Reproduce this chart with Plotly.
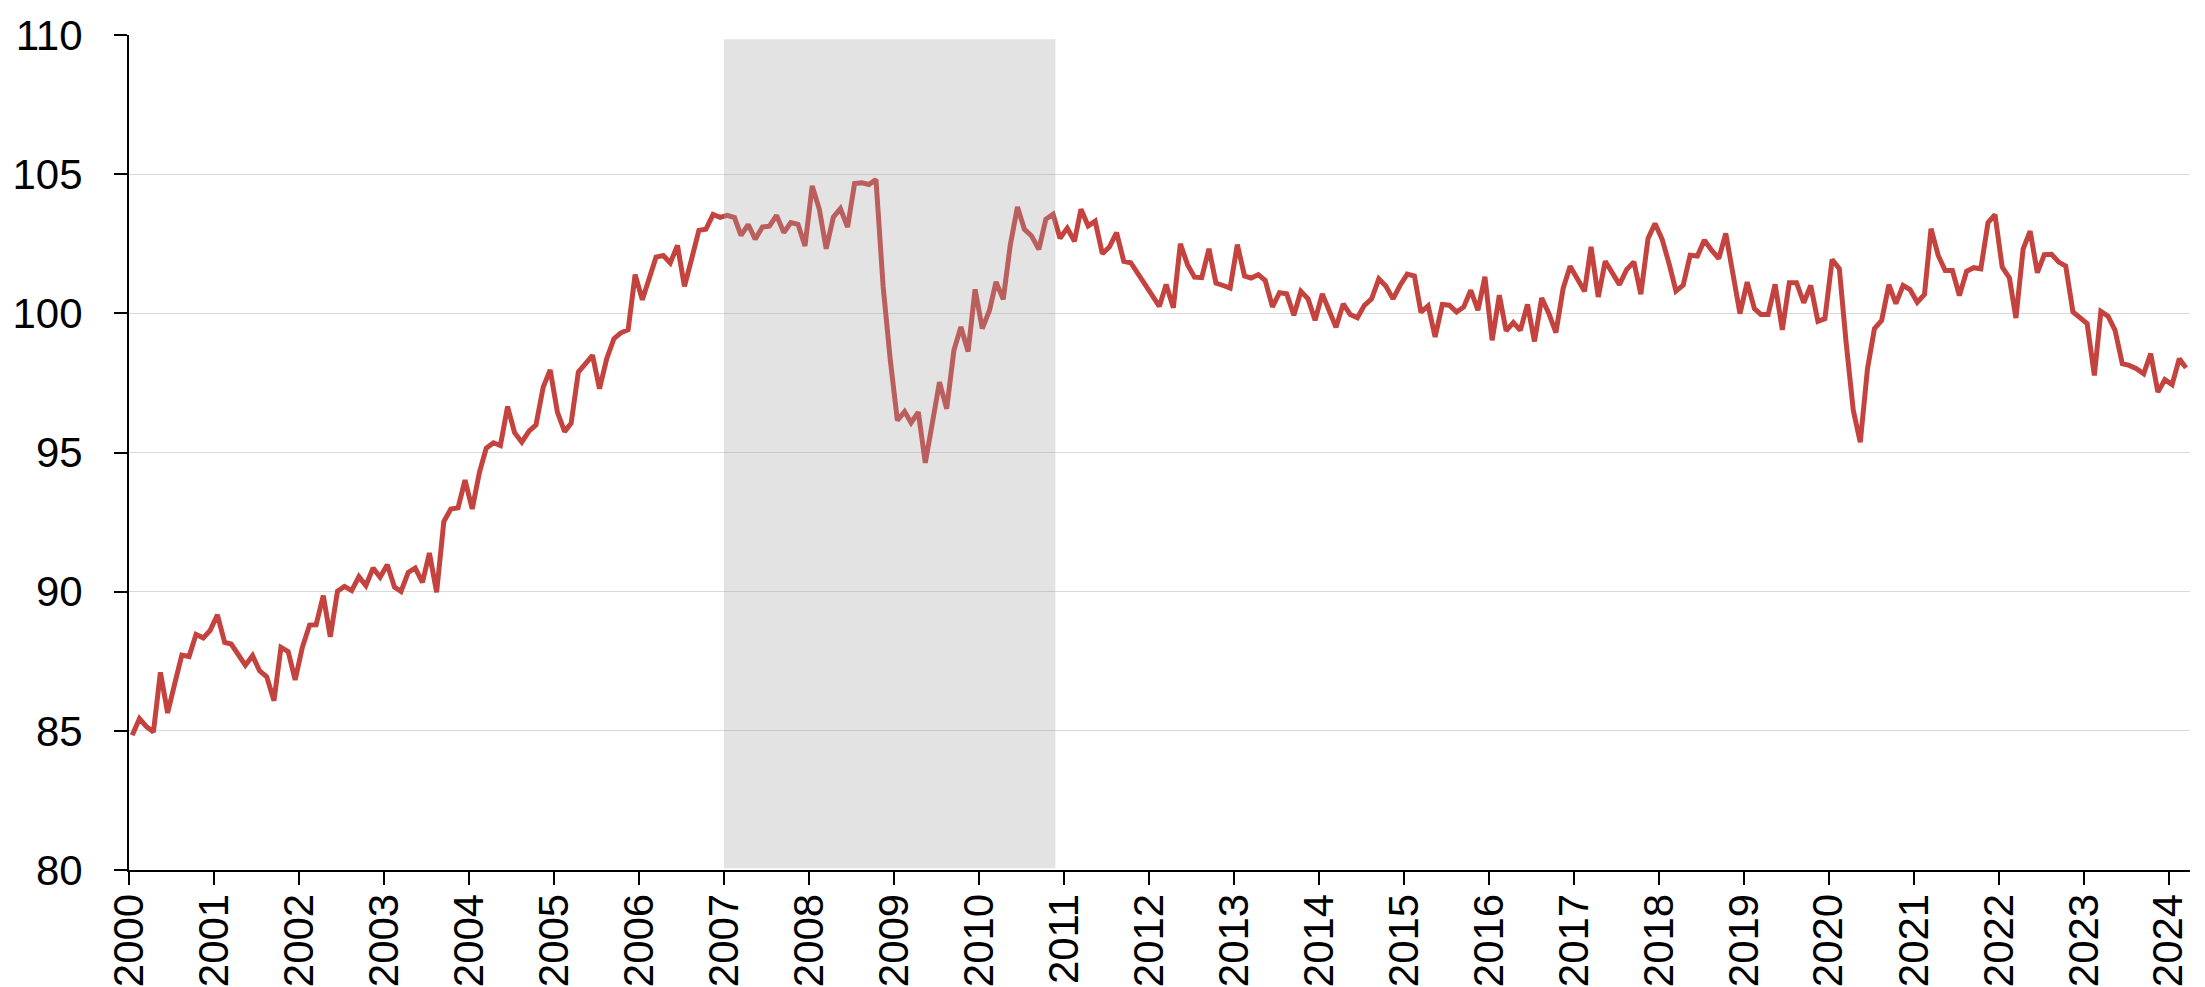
import pandas as pd
import plotly.graph_objects as go

# Monthly index values, Jan 2000 - Mar 2024
v2000 = [84.84, 85.44, 85.16, 84.96, 87.10, 85.64, 86.68, 87.72, 87.67, 88.46, 88.34, 88.61]
v2001 = [89.17, 88.18, 88.12, 87.72, 87.36, 87.70, 87.16, 86.94, 86.08, 88.00, 87.85, 86.83]
v2002 = [88.00, 88.80, 88.81, 89.86, 88.38, 90.02, 90.19, 90.04, 90.54, 90.22, 90.85, 90.52]
v2003 = [90.97, 90.16, 90.01, 90.69, 90.85, 90.33, 91.39, 89.98, 92.52, 92.97, 93.01, 94.01]
v2004 = [92.97, 94.29, 95.15, 95.35, 95.25, 96.65, 95.71, 95.37, 95.77, 95.99, 97.35, 97.97]
v2005 = [96.45, 95.75, 96.05, 97.89, 98.19, 98.49, 97.29, 98.37, 99.09, 99.30, 99.41, 101.39]
v2006 = [100.49, 101.27, 102.02, 102.08, 101.81, 102.44, 100.97, 101.96, 102.98, 103.02, 103.55, 103.45]
v2007 = [103.52, 103.44, 102.80, 103.19, 102.66, 103.10, 103.13, 103.52, 102.90, 103.26, 103.20, 102.42]
v2008 = [104.58, 103.73, 102.32, 103.46, 103.76, 103.10, 104.66, 104.69, 104.63, 104.81, 100.95, 98.37]
v2009 = [96.15, 96.47, 96.07, 96.45, 94.63, 96.09, 97.53, 96.57, 98.67, 99.51, 98.63, 100.86]
v2010 = [99.45, 100.11, 101.13, 100.50, 102.44, 103.82, 103.02, 102.78, 102.30, 103.38, 103.56, 102.70]
v2011 = [103.06, 102.59, 103.74, 103.14, 103.31, 102.14, 102.38, 102.90, 101.87, 101.82, 101.42, 101.00]
v2012 = [100.58, 100.25, 101.04, 100.20, 102.50, 101.75, 101.30, 101.28, 102.32, 101.09, 101.00, 100.91]
v2013 = [102.47, 101.34, 101.27, 101.39, 101.18, 100.23, 100.74, 100.70, 99.93, 100.79, 100.52, 99.75]
v2014 = [100.70, 100.10, 99.50, 100.34, 99.96, 99.84, 100.29, 100.52, 101.24, 100.98, 100.52, 101.00]
v2015 = [101.41, 101.34, 100.04, 100.27, 99.15, 100.32, 100.29, 100.05, 100.23, 100.83, 100.11, 101.31]
v2016 = [99.03, 100.65, 99.37, 99.67, 99.39, 100.32, 98.99, 100.55, 99.99, 99.31, 100.89, 101.69]
v2017 = [101.22, 100.79, 102.39, 100.59, 101.87, 101.43, 101.03, 101.57, 101.85, 100.69, 102.69, 103.23]
v2018 = [102.65, 101.73, 100.80, 101.01, 102.09, 102.06, 102.63, 102.27, 101.97, 102.87, 101.37, 99.99]
v2019 = [101.12, 100.17, 99.96, 99.96, 101.04, 99.41, 101.10, 101.10, 100.38, 101.00, 99.71, 99.81]
v2020 = [101.93, 101.60, 98.97, 96.51, 95.37, 98.01, 99.45, 99.75, 101.03, 100.35, 101.00, 100.85]
v2021 = [100.40, 100.68, 103.04, 102.08, 101.54, 101.54, 100.64, 101.51, 101.64, 101.60, 103.26, 103.55]
v2022 = [101.66, 101.27, 99.83, 102.32, 102.95, 101.46, 102.11, 102.12, 101.84, 101.70, 100.05, 99.83]
v2023 = [99.63, 97.77, 100.07, 99.90, 99.39, 98.19, 98.13, 98.01, 97.83, 98.55, 97.17, 97.62]
v2024 = [97.44, 98.37, 98.04]

values = (v2000 + v2001 + v2002 + v2003 + v2004 + v2005 + v2006 + v2007 + v2008 + v2009
          + v2010 + v2011 + v2012 + v2013 + v2014 + v2015 + v2016 + v2017 + v2018 + v2019
          + v2020 + v2021 + v2022 + v2023 + v2024)
# one point per month, placed mid-month
months = pd.date_range("2000-01-01", periods=len(values), freq="MS") + pd.Timedelta(days=14)

tick_years = list(range(2000, 2025))
tick_vals = [f"{y}-01-01" for y in tick_years]
tick_text = [str(y) for y in tick_years]

band_start = "2007-01-01"
band_end = "2010-11-25"

FONT = "Liberation Sans"

fig = go.Figure()
fig.add_trace(go.Scatter(x=months, y=values, mode="lines",
                         line=dict(color="#C4433F", width=5), hoverinfo="skip",
                         showlegend=False))

fig.add_shape(type="rect", xref="x", yref="y", x0=band_start, x1=band_end,
              y0=80.06, y1=109.85, fillcolor="rgba(162,162,162,0.3)",
              line=dict(width=0), layer="above")

fig.update_layout(
    width=2205, height=987,
    margin=dict(l=121, r=23, t=27, b=125, autoexpand=False),
    paper_bgcolor="white", plot_bgcolor="white",
    font=dict(family=FONT, size=42, color="black"),
    showlegend=False,
)
fig.update_xaxes(
    type="date", range=["2000-01-01", "2024-04-01"], automargin=False,
    tickvals=tick_vals, ticktext=tick_text, tickangle=-90,
    showgrid=False, zeroline=False,
    showline=True, linecolor="black", linewidth=2,
    ticks="outside", ticklen=13, tickwidth=2, tickcolor="black",
    ticklabelstandoff=-8,
    tickfont=dict(family=FONT, size=42, color="black"),
)
fig.update_yaxes(
    range=[80, 110], tickvals=[80, 85, 90, 95, 100, 105, 110], automargin=False,
    showgrid=True, gridcolor="#D9D9D9", gridwidth=1.3, zeroline=False,
    showline=True, linecolor="black", linewidth=2,
    ticks="outside", ticklen=13, tickwidth=2, tickcolor="black",
    ticklabelstandoff=23,
    tickfont=dict(family=FONT, size=42, color="black"),
)

fig.write_html("out.html", config={"displayModeBar": False})
